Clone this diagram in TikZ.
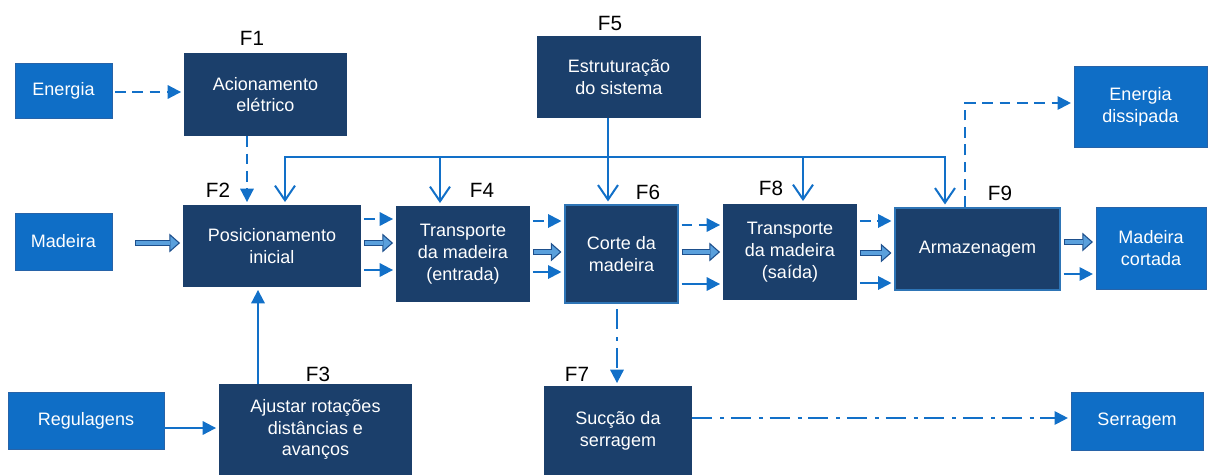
\documentclass[tikz,border=0pt]{standalone}
\usepackage{fontspec}
\setmainfont{Liberation Sans}
\usetikzlibrary{arrows.meta}
\definecolor{boxdark}{HTML}{1B3F6B}
\definecolor{boxlight}{HTML}{0F6EC6}
\definecolor{boxlightborder}{HTML}{2763A8}
\definecolor{arrowblue}{HTML}{1270C8}
\definecolor{fatdark}{HTML}{1D4F8C}
\definecolor{fatlight}{HTML}{5AA0DC}
\definecolor{hlborder}{HTML}{2E75B6}
\begin{document}
\begin{tikzpicture}[x=0.75pt,y=-0.75pt,
 boxtext/.style={font=\fontsize{13.5}{16.3}\selectfont, text=white, align=center, inner sep=0pt},
 dbox/.style={boxtext, fill=boxdark},
 dboxh/.style={dbox, draw=hlborder, line width=1.3pt},
 lbox/.style={boxtext, fill=boxlight, draw=boxlightborder, line width=0.6pt},
 flabel/.style={font=\fontsize{15.5}{18}\selectfont, inner sep=0pt},
 ln/.style={draw=arrowblue, line width=1.5pt, shorten <=2pt, shorten >=2pt, -{Triangle[length=10pt,width=10pt]}},
 dsh/.style={ln, dash pattern=on 8pt off 5pt},
 dd/.style={ln, dash pattern=on 15pt off 6pt on 3pt off 5pt},
 vee/.style={draw=arrowblue, line width=1.5pt, shorten >=2pt, -{Straight Barb[length=11pt,width=15pt]}},
 bus/.style={draw=arrowblue, line width=1.5pt, shorten <=2pt, shorten >=2pt, {Straight Barb[length=11pt,width=15pt]}-{Straight Barb[length=11pt,width=15pt]}},
 fat/.style={draw=fatdark, line width=5pt, shorten <=#1, shorten >=2pt,
   -{Triangle[length=8pt,width=14pt,line width=0.8pt,fill=fatlight]},
   postaction={draw=fatlight, line width=2.4pt, -, shorten <=#1+0.9pt, shorten >=9.4pt}},
 fat/.default=2pt
]
\useasboundingbox (0,0) rectangle (1210,475);

% nodes
\node[lbox, minimum width=72.75pt, minimum height=41.25pt] (en) at (63.5,90.5) {Energia};
\node[dbox, minimum width=122.25pt, minimum height=62.25pt] (f1) at (265.5,94.5) {Acionamento\\elétrico};
\node[dbox, minimum width=123pt, minimum height=61.5pt] (f5) at (619,77) {Estruturação\\do sistema};
\node[lbox, minimum width=99.75pt, minimum height=60.75pt] (ed) at (1140.5,106.5) {Energia\\dissipada};
\node[lbox, minimum width=72.75pt, minimum height=42.75pt] (ma) at (63.5,241.5) {Madeira};
\node[dbox, minimum width=133.5pt, minimum height=61.5pt] (f2) at (272,246) {Posicionamento\\inicial};
\node[dbox, minimum width=100.5pt, minimum height=72pt] (f4) at (463,254) {Transporte\\da madeira\\(entrada)};
\node[dboxh, minimum width=84.75pt, minimum height=73.5pt] (f6) at (621.5,254) {Corte da\\madeira};
\node[dbox, minimum width=100.5pt, minimum height=72pt] (f8) at (790,252) {Transporte\\da madeira\\(saída)};
\node[dboxh, minimum width=123.75pt, minimum height=61.5pt] (f9) at (977.5,249) {Armazenagem};
\node[lbox, minimum width=82.5pt, minimum height=61.5pt] (mc) at (1151,248) {Madeira\\cortada};
\node[lbox, minimum width=117pt, minimum height=42.75pt] (rg) at (86,420.5) {Regulagens};
\node[dbox, minimum width=144.75pt, minimum height=68.25pt] (f3) at (315.5,429.5) {Ajustar rotações\\distâncias e\\avanços};
\node[dbox, minimum width=111pt, minimum height=66.75pt] (f7) at (618,430.5) {Sucção da\\serragem};
\node[lbox, minimum width=99pt, minimum height=43.5pt] (sg) at (1137,421) {Serragem};

% labels
\node[flabel] (l1) at (252,38) {F1};
\node[flabel] (l2) at (218,190) {F2};
\node[flabel] (l3) at (318,374) {F3};
\node[flabel] (l4) at (482,190) {F4};
\node[flabel] (l5) at (610,23.5) {F5};
\node[flabel] (l6) at (648,192) {F6};
\node[flabel] (l7) at (577,374) {F7};
\node[flabel] (l8) at (771,188) {F8};
\node[flabel] (l9) at (1000,193) {F9};

% bus coordinates
\coordinate (bl) at (285,157);
\coordinate (br) at (945,157);
\coordinate (b4) at (440,157);
\coordinate (b8) at (803,157);
\coordinate (b5) at (608,118);

% bus
\draw[bus] (bl |- f2.north) -- (bl) -- (br) -- (br |- f9.north);
\draw[vee] (b4) -- (b4 |- f4.north);
\draw[vee] (b8) -- (b8 |- f8.north);
\draw[vee] (b5) -- (b5 |- f6.north);

% energy
\draw[dsh] (en.east |- 0,92) -- (f1.west |- 0,92);
\draw[dsh, shorten <=0pt] (f1.south -| 247,0) -- (f2.north -| 247,0);
\draw[dsh, shorten <=0pt] (f9.north -| 965,0) |- (ed.west |- 0,103);

% input
\draw[fat=17pt] (ma.east |- 0,243) -- (f2.west |- 0,243);

% F2 -> F4
\draw[dsh] (f2.east |- 0,219) -- (f4.west |- 0,219);
\draw[fat] (f2.east |- 0,243) -- (f4.west |- 0,243);
\draw[ln] (f2.east |- 0,270) -- (f4.west |- 0,270);
% F4 -> F6
\draw[dsh] (f4.east |- 0,221) -- (f6.west |- 0,221);
\draw[fat] (f4.east |- 0,252) -- (f6.west |- 0,252);
\draw[ln] (f4.east |- 0,272) -- (f6.west |- 0,272);
% F6 -> F8
\draw[dsh] (f6.east |- 0,225) -- (f8.west |- 0,225);
\draw[fat] (f6.east |- 0,252) -- (f8.west |- 0,252);
\draw[ln] (f6.east |- 0,284) -- (f8.west |- 0,284);
% F8 -> F9
\draw[dsh] (f8.east |- 0,221) -- (f9.west |- 0,221);
\draw[fat] (f8.east |- 0,253) -- (f9.west |- 0,253);
\draw[ln] (f8.east |- 0,283) -- (f9.west |- 0,283);
% F9 -> Madeira cortada
\draw[fat] (f9.east |- 0,242) -- (mc.west |- 0,242);
\draw[ln] (f9.east |- 0,274) -- (mc.west |- 0,274);

% regulation
\draw[ln, shorten <=0pt] (rg.east |- 0,428) -- (f3.west |- 0,428);
\draw[ln, shorten <=0pt] (f3.north -| 258,0) -- (f2.south -| 258,0);

% sawdust
\draw[dd, shorten <=4pt] (f6.south -| 617,0) -- (f7.north -| 617,0);
\draw[dd, shorten <=0pt] (f7.east |- 0,418) -- (sg.west |- 0,418);
\end{tikzpicture}
\end{document}
